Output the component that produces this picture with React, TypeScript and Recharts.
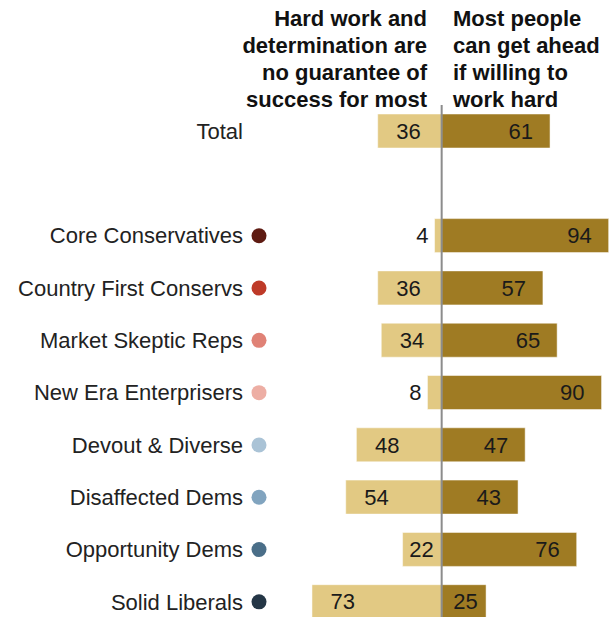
import React from 'react';
import { BarChart, Bar, XAxis, YAxis, ReferenceLine, LabelList } from 'recharts';

// Row labels (blank row separates Total from the typology groups)
const categories = [
  'Total',
  ' ',
  'Core Conservatives',
  'Country First Conservs',
  'Market Skeptic Reps',
  'New Era Enterprisers',
  'Devout & Diverse',
  'Disaffected Dems',
  'Opportunity Dems',
  'Solid Liberals',
];

// % saying hard work is no guarantee of success
const noGuarantee = [36, null, 4, 36, 34, 8, 48, 54, 22, 73];
// % saying most people can get ahead if willing to work hard
const getAhead = [61, null, 94, 57, 65, 90, 47, 43, 76, 25];

const dotColors = [
  null,
  null,
  '#5E1B12',
  '#BE3A28',
  '#E08276',
  '#EDAEA4',
  '#AAC3D6',
  '#81A4BF',
  '#4A6E88',
  '#243646',
];

const LEFT_COLOR = '#E2C983';
const RIGHT_COLOR = '#9F7B23';
const FONT = '"Liberation Sans", Arial, sans-serif';

const data = categories.map((name, i) => ({
  name,
  noGuarantee: noGuarantee[i],
  getAhead: getAhead[i],
  dot: dotColors[i],
}));

const CategoryTick = (props: any) => {
  const { y, index } = props;
  const name = categories[index];
  const dot = dotColors[index];
  if (!name.trim()) return null;
  return (
    <g>
      <text x={243} y={y} dy="0.35em" textAnchor="end" fontSize={22} fill="#222" fontFamily={FONT}>
        {name}
      </text>
      {dot && <circle cx={259} cy={y} r={7.5} fill={dot} />}
    </g>
  );
};

const LeftLabel = (props: any) => {
  const { x, y, width, height, value } = props;
  if (value == null) return null;
  const left = Math.min(x, x + width);
  const zero = Math.max(x, x + width);
  const cy = y + height / 2;
  const tx = value < 10 ? left - 6 : Math.min(left + 43, zero - 8);
  return (
    <text x={tx} y={cy} dy="0.35em" textAnchor="end" fontSize={22} fill="#1a1a1a" fontFamily={FONT}>
      {value}
    </text>
  );
};

const RightLabel = (props: any) => {
  const { x, y, width, height, value } = props;
  if (value == null) return null;
  const right = Math.max(x, x + width);
  const zero = Math.min(x, x + width);
  const cy = y + height / 2;
  const tx = Math.max(right - 17, zero + 36);
  return (
    <text x={tx} y={cy} dy="0.35em" textAnchor="end" fontSize={22} fill="#1a1a1a" fontFamily={FONT}>
      {value}
    </text>
  );
};

const headerStyle: React.CSSProperties = {
  position: 'absolute',
  top: 5,
  fontFamily: FONT,
  fontWeight: 'bold',
  fontSize: 22,
  lineHeight: '27px',
  color: '#111',
  whiteSpace: 'nowrap',
};

export default function App() {
  return (
    <div style={{ position: 'fixed', left: 0, top: 0, width: 614, height: 617, overflow: 'hidden', background: '#fff' }}>
      <div style={{ ...headerStyle, right: 187, textAlign: 'right' }}>
        Hard work and
        <br />
        determination are
        <br />
        no guarantee of
        <br />
        success for most
      </div>
      <div style={{ ...headerStyle, left: 453, textAlign: 'left' }}>
        Most people
        <br />
        can get ahead
        <br />
        if willing to
        <br />
        work hard
      </div>
      <BarChart
        width={614}
        height={628}
        data={data}
        layout="vertical"
        stackOffset="sign"
        margin={{ top: 105, right: 0, bottom: 0, left: 0 }}
        barSize={34}
      >
        <XAxis type="number" domain={[-100, 97]} hide />
        <YAxis
          type="category"
          dataKey="name"
          width={264}
          axisLine={false}
          tickLine={false}
          tick={<CategoryTick />}
          interval={0}
        />
        <Bar
          dataKey={(d: any) => (d.noGuarantee == null ? null : -d.noGuarantee)}
          stackId="a"
          fill={LEFT_COLOR}
          stroke="#fff"
          strokeWidth={0.5}
          isAnimationActive={false}
        >
          <LabelList dataKey="noGuarantee" content={<LeftLabel />} />
        </Bar>
        <Bar
          dataKey="getAhead"
          stackId="a"
          fill={RIGHT_COLOR}
          stroke="#fff"
          strokeWidth={0.5}
          isAnimationActive={false}
        >
          <LabelList dataKey="getAhead" content={<RightLabel />} />
        </Bar>
        <ReferenceLine x={0} stroke="#8c8c8c" strokeWidth={2} />
      </BarChart>
    </div>
  );
}
